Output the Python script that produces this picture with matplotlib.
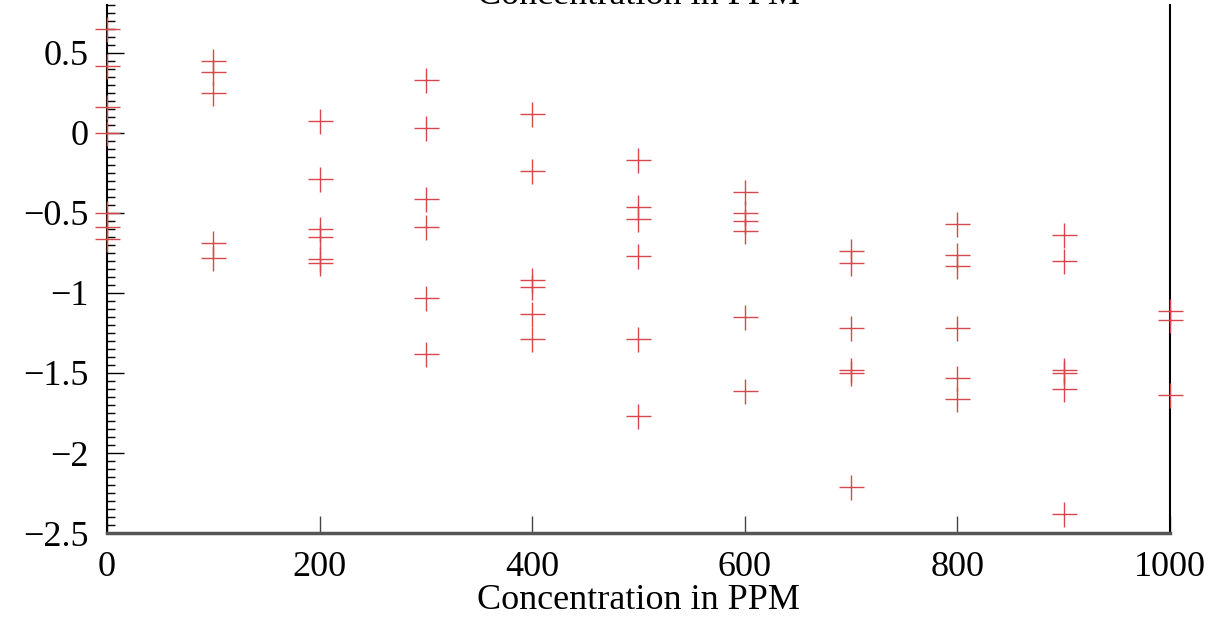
import numpy as np
import matplotlib
matplotlib.use("Agg")
import matplotlib.pyplot as plt
from matplotlib.ticker import MultipleLocator

# readings per concentration (ppm)
conc = [0, 100, 200, 300, 400, 500, 600, 700, 800, 900, 1000]
vals_0 = [0.65, 0.42, 0.16, 0.0, -0.50, -0.59, -0.66]
vals_100 = [0.45, 0.38, 0.25, -0.69, -0.78]
vals_200 = [0.075, -0.29, -0.60, -0.65, -0.79, -0.81]
vals_300 = [0.33, 0.03, -0.41, -0.59, -1.03, -1.38]
vals_400 = [0.12, -0.24, -0.92, -0.96, -1.13, -1.29]
vals_500 = [-0.17, -0.46, -0.54, -0.77, -1.29, -1.77]
vals_600 = [-0.37, -0.50, -0.55, -0.61, -1.15, -1.61]
vals_700 = [-0.74, -0.81, -1.22, -1.48, -1.50, -2.21]
vals_800 = [-0.57, -0.76, -0.83, -1.22, -1.53, -1.66]
vals_900 = [-0.64, -0.80, -1.48, -1.50, -1.60, -2.38]
vals_1000 = [-1.11, -1.17, -1.64]

groups = [vals_0, vals_100, vals_200, vals_300, vals_400, vals_500,
          vals_600, vals_700, vals_800, vals_900, vals_1000]

x = []
y = []
for c, g in zip(conc, groups):
    x += [c] * len(g)
    y += g

plt.rcParams['font.family'] = ['Liberation Serif', 'DejaVu Serif']

fig = plt.figure(figsize=(12.11, 6.2), dpi=100)
ax = fig.add_axes([0.0884, 0.1403, 0.8776, 0.8517])

ax.plot(x, y, linestyle="none", marker="+", markersize=18,
        markeredgewidth=1.0, color="#d8474a", clip_on=False, zorder=3)

ax.set_xlim(0, 1000)
ax.set_ylim(-2.5, 0.8)
ax.xaxis.set_major_locator(MultipleLocator(200))
ax.yaxis.set_minor_locator(MultipleLocator(0.05))
ax.set_yticks([-2.5, -2, -1.5, -1, -0.5, 0, 0.5])
ax.set_yticklabels(["\u22122.5", "\u22122", "\u22121.5", "\u22121", "\u22120.5", "0", "0.5"])

ax.tick_params(axis="both", which="both", direction="in", top=False, right=False,
               labelsize=26)
ax.tick_params(axis="x", which="major", length=12, width=1, color="#444444", pad=13)
ax.tick_params(axis="y", which="major", length=12, width=1, pad=13)
ax.tick_params(axis="y", which="minor", length=6, width=1)

ax.spines["top"].set_visible(False)
ax.spines["left"].set_linewidth(1.5)
ax.spines["right"].set_linewidth(1.5)
ax.spines["bottom"].set_linewidth(2.5)
ax.spines["bottom"].set_color("#555555")

ax.set_xlabel("Concentration in PPM", fontsize=26, labelpad=0)

# title sits partly above the visible area, like the source image
fig.text(0.527, 0.9935, "Concentration in PPM", fontsize=26,
         ha="center", va="baseline")

plt.savefig("out.png", dpi=100)
plt.close()
